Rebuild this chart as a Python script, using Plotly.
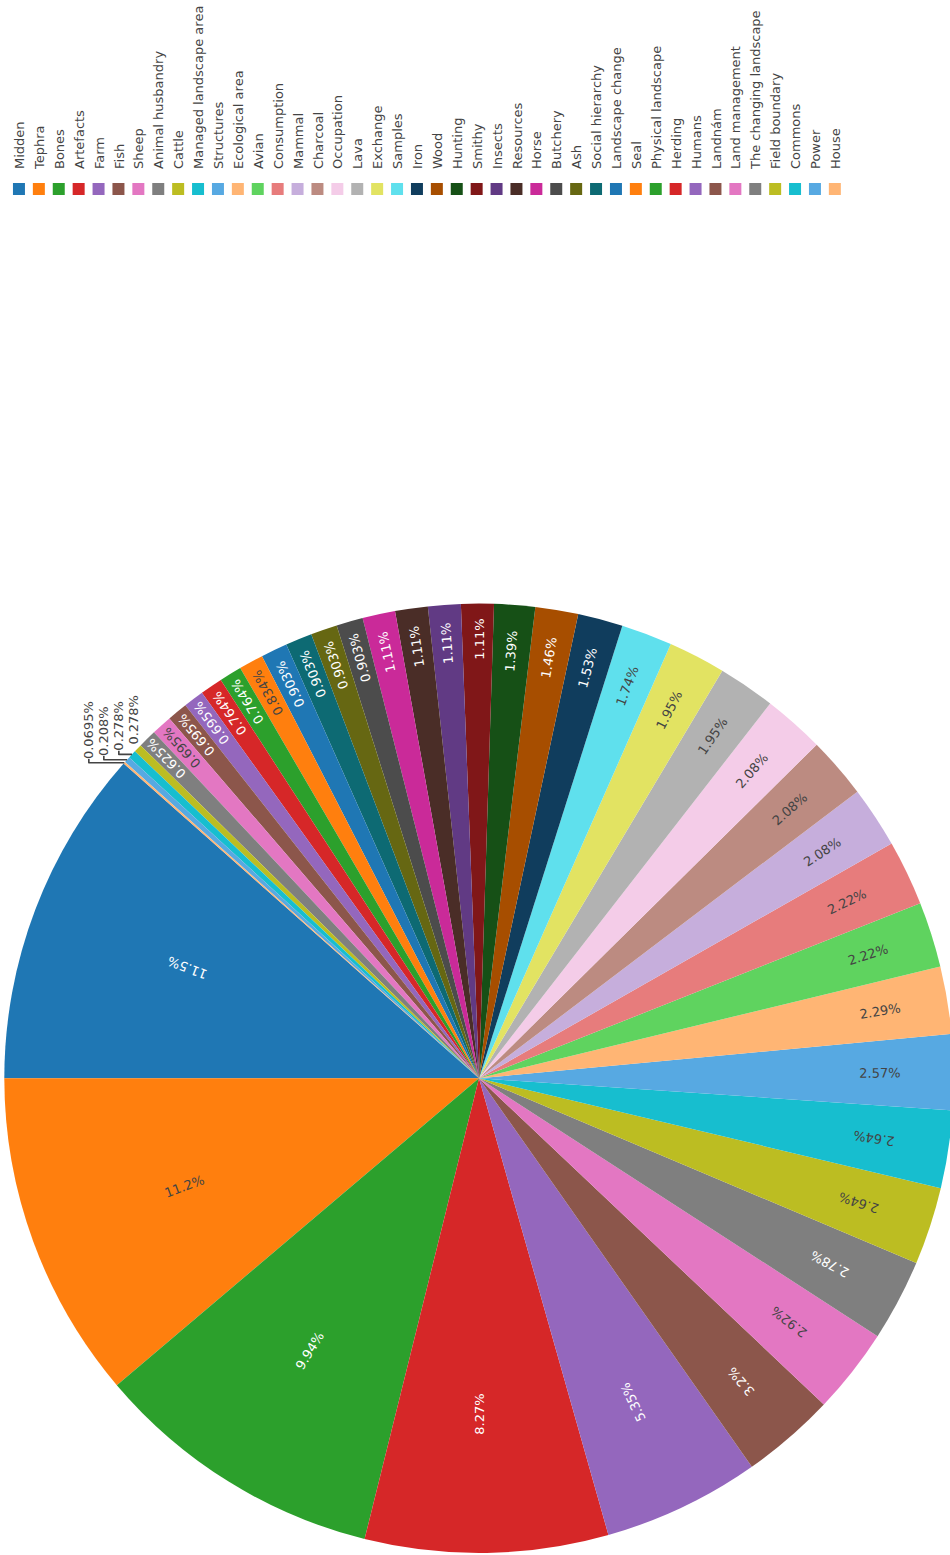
import plotly.graph_objects as go

labels = [
    "Midden", "Tephra", "Bones", "Artefacts", "Farm", "Fish", "Sheep",
    "Animal husbandry", "Cattle", "Managed landscape area", "Structures",
    "Ecological area", "Avian", "Consumption", "Mammal", "Charcoal",
    "Occupation", "Lava", "Exchange", "Samples", "Iron", "Wood", "Hunting",
    "Smithy", "Insects", "Resources", "Horse", "Butchery", "Ash",
    "Social hierarchy", "Landscape change", "Seal", "Physical landscape",
    "Herding", "Humans", "Landnám", "Land management",
    "The changing landscape", "Field boundary", "Commons", "Power", "House",
]
counts = [
    166, 161, 143, 119, 77, 46, 42,
    40, 38, 38, 37,
    33, 32, 32, 30, 30,
    30, 28, 28, 25, 22, 21, 20,
    16, 16, 16, 16, 13, 13,
    13, 13, 12, 11,
    11, 10, 10, 10,
    9, 4, 4, 3, 1,
]

W, H = 1555, 954

fig = go.Figure(
    go.Pie(
        labels=labels,
        values=counts,
        insidetextorientation="radial",
        domain=dict(x=[2 / W, 952 / W], y=[0, 1]),
    )
)
fig.update_layout(
    template="none",
    width=W,
    height=H,
    font=dict(family="DejaVu Sans, Verdana, sans-serif", size=13, color="#444"),
    margin=dict(l=0, r=0, t=4, b=0),
    legend=dict(x=1347 / W, xanchor="left", y=1, yanchor="top"),
)

post = """
document.body.style.margin = '0';
document.body.style.overflow = 'hidden';
var gd = document.getElementById('{plot_id}');
gd.style.transformOrigin = '0 0';
gd.style.transform = 'translate(0px, 1555px) rotate(-90deg)';
"""

fig.write_html("out.html", post_script=post)
